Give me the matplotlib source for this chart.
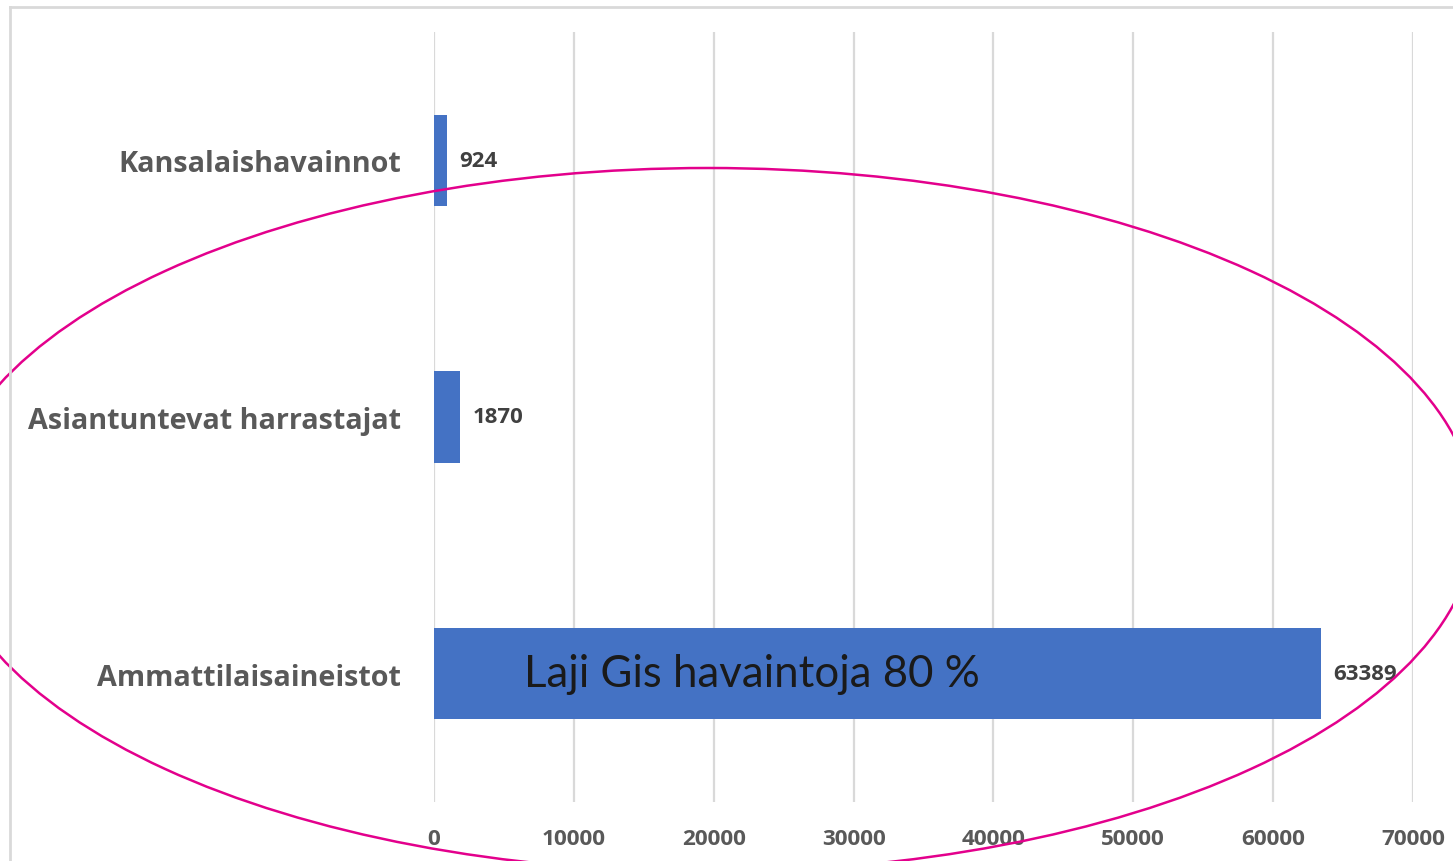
import matplotlib.pyplot as plt
from matplotlib.patches import Ellipse
from matplotlib.lines import Line2D

categories = ['Ammattilaisaineistot', 'Asiantuntevat harrastajat', 'Kansalaishavainnot']
values = [63389, 1870, 924]
x_ticks = [0, 10000, 20000, 30000, 40000, 50000, 60000, 70000]
note = 'Laji Gis havaintoja 80 %'

W, H = 1453, 862
fig = plt.figure(figsize=(W / 100, H / 100), dpi=100)
fig.patch.set_facecolor('white')

ax = fig.add_axes([434 / W, (H - 803) / H, 979 / W, 770 / H])
ax.barh(range(len(categories)), values, height=0.357, color='#4472C4', zorder=3)
ax.set_xlim(0, 70000)
ax.set_ylim(-0.5, len(categories) - 0.5)
ax.set_xticks(x_ticks)
ax.set_xticklabels([str(t) for t in x_ticks], family='Open Sans', fontweight='bold',
                   fontsize=16.2, color='#595959')
ax.set_yticks(range(len(categories)))
ax.set_yticklabels(categories, family='Open Sans', fontweight='bold',
                   fontsize=20.7, color='#595959')
ax.tick_params(axis='x', length=0, pad=19)
ax.tick_params(axis='y', length=0, pad=24)
ax.grid(axis='x', color='#D9D9D9', linewidth=1.6, zorder=0)
for s in ax.spines.values():
    s.set_visible(False)

for i, v in enumerate(values):
    ax.annotate(str(v), (v, i), xytext=(9, 0), textcoords='offset points',
                va='center', ha='left', family='Open Sans', fontweight='bold',
                fontsize=16, color='#404040')

# overlay in pixel coordinates for frame, note and ellipse
ov = fig.add_axes([0, 0, 1, 1], zorder=5)
ov.set_xlim(0, W)
ov.set_ylim(H, 0)
ov.axis('off')
ov.patch.set_alpha(0)
ov.add_line(Line2D([10, 10], [8, H], color='#D9D9D9', linewidth=2))
ov.add_line(Line2D([10, W], [8, 8], color='#D9D9D9', linewidth=2))
ov.text(752, 675, note, ha='center', va='center', family='Lato',
        fontsize=31.5, color='#1a1a1a')
ov.add_patch(Ellipse((708, 521), 2 * 768, 2 * 352, fill=False,
                     edgecolor='#E3008C', linewidth=1.8))

fig.savefig('out.png', dpi=100)
